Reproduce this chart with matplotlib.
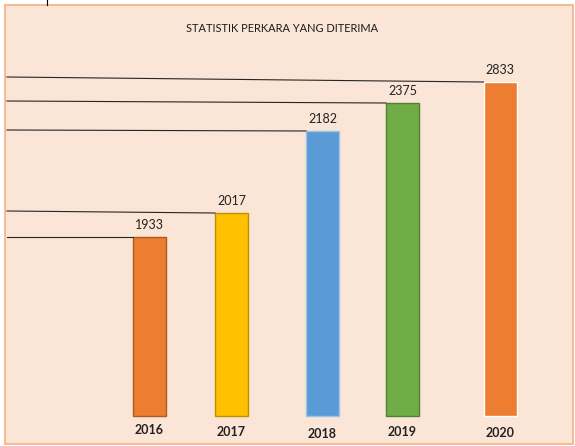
import matplotlib.pyplot as plt
from matplotlib.patches import Rectangle
from matplotlib.lines import Line2D

# data
years = ["2016", "2017", "2018", "2019", "2020"]
values = [1933, 2017, 2182, 2375, 2833]
# drawn bar heights (the picture's bars are not to scale)
heights = [179, 203, 285, 313, 334]
# height where each leader line leaves the left edge
line_start = [179, 205, 286, 315, 339]

# layout
bar_x = [149.5, 231.5, 322.5, 402.5, 500]
bar_w = 33
colors = ["#ED7D31", "#FFC000", "#5B9BD5", "#70AD47", "#ED7D31"]
edges = ["#AE5A21", "#BF9000", "#9DC3E6", "#507E32", "#FFFFFF"]
year_off = [-14, -16, -18, -16, -17]

plt.rcParams["font.family"] = ["Lato", "DejaVu Sans"]

fig = plt.figure(figsize=(5.75, 4.46), dpi=100)
fig.patch.set_facecolor("white")

ax = fig.add_axes([0, 0, 1, 1])
ax.set_xlim(0, 575)
ax.set_ylim(-30, 416)
ax.axis("off")

# chart frame
ax.add_patch(Rectangle((5 / 575, 2 / 446), 568 / 575, 439 / 446,
                       transform=fig.transFigure, facecolor="#FBE5D6",
                       edgecolor="#F4B183", linewidth=1.2, zorder=0,
                       clip_on=False))
ax.add_line(Line2D([47 / 575, 47 / 575], [1 - 5 / 446, 1],
                   transform=fig.transFigure, color="black", linewidth=0.8,
                   clip_on=False))

ax.bar(bar_x, heights, width=bar_w, color=colors, edgecolor=edges,
       linewidth=1.0, zorder=2)

for x, h, s in zip(bar_x, heights, line_start):
    ax.plot([7, x - bar_w / 2], [s, h], color="#262626", linewidth=0.8, zorder=3)

for x, h, v in zip(bar_x, heights, values):
    ax.text(x, h + 12, str(v), ha="center", va="center", fontsize=9,
            color="#222222")

for x, y, o in zip(bar_x, years, year_off):
    ax.text(x, o, y, ha="center", va="center", fontsize=9, color="#222222",
            fontweight="bold")

ax.text(282, 416 - 28, "STATISTIK PERKARA YANG DITERIMA", ha="center",
        va="center", fontsize=7.9, color="#1a1a1a")

fig.savefig("out.png", dpi=100)
